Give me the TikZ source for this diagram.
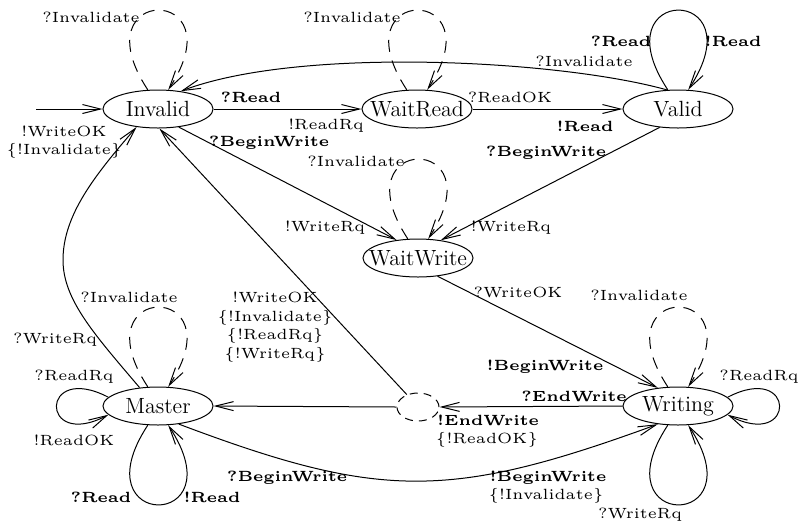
\documentclass[tikz,border=0pt]{standalone}
\usepackage{fontspec}
\newfontfamily\lblfont[Extension=.otf,BoldFont=lmroman5-bold]{lmroman5-regular}
\usetikzlibrary{arrows.meta,shapes.geometric}
\begin{document}
\begin{tikzpicture}[x=0.5pt,y=-0.5pt,line width=0.5pt,
  >={Straight Barb[length=9pt,width=4.5pt]},
  state/.style={ellipse,draw,minimum width=55pt,minimum height=19pt,inner sep=0pt,font=\fontsize{11}{12}\selectfont},
  choice/.style={ellipse,draw,dash pattern=on 4pt off 3pt,minimum width=21pt,minimum height=14pt,inner sep=0pt},
  lbl/.style={inner sep=0pt,font=\lblfont\fontsize{7.4}{9.3}\selectfont,align=center},
  blbl/.style={inner sep=0pt,font=\lblfont\fontsize{7.4}{9.3}\selectfont\bfseries,align=center},
  dsh/.style={dash pattern=on 6pt off 4.5pt}]
\path[use as bounding box] (0,0) rectangle (799,527);

% states
\node[state] (inv) at (158,109) {\makebox[0pt]{Invalid}};
\node[state] (wr)  at (417,109) {\makebox[0pt]{WaitRead}};
\node[state] (val) at (678,109) {\makebox[0pt]{Valid}};
\node[state] (ww)  at (418,258) {\makebox[0pt]{WaitWrite}};
\node[state] (mas) at (158,406) {\makebox[0pt]{Master}};
\node[state] (wri) at (678,406) {\makebox[0pt]{Writing}};
\node[choice] (ch) at (418,407) {};
\coordinate (start) at (36,109);

% straight transitions
\draw[->] (start) -- (inv.west);
\draw[->] (inv.east) -- (wr.west);
\draw[->] (wr.east) -- (val.west);
\draw[->] (inv.-41) -- (ww.140);
\draw[->] (val.225) -- (ww.38);
\draw[->] (ww.-43) -- (wri.138);
\draw[->] (wri.west) -- (ch.east);
\draw[->] (ch.west) -- (mas.east);
\draw[->] (ch.132) -- (inv.-86);

% curved transitions
\draw[->] (val.120) .. controls (560,60) and (300,46) .. (inv.38);
\draw[->] (mas.135) .. controls (95,335) and (63,300) .. (63,260)
                    .. controls (63,215) and (95,175) .. (inv.220);
\draw[->] (mas.-41) .. controls (380,500) and (450,500) .. (wri.222);

% top self loops
\draw[->,dsh] (inv.118) .. controls +(-70,-106) and +(70,-106) .. (inv.62);
\draw[->,dsh] (wr.118) .. controls +(-70,-106) and +(70,-106) .. (wr.62);
\draw[->] (val.118) .. controls +(-70,-106) and +(70,-106) .. (val.62);
\draw[->,dsh] (ww.118) .. controls +(-70,-106) and +(70,-106) .. (ww.62);
\draw[->,dsh] (mas.118) .. controls +(-70,-106) and +(70,-106) .. (mas.62);
\draw[->,dsh] (wri.118) .. controls +(-70,-106) and +(70,-106) .. (wri.62);
% bottom self loops
\draw[->] (mas.-118) .. controls +(-70,106) and +(70,106) .. (mas.-62);
\draw[->] (wri.-118) .. controls +(-70,106) and +(70,106) .. (wri.-62);
% side self loops
\draw[->] (mas.170) .. controls +(-69,-36) and +(-69,36) .. (mas.190);
\draw[->] (wri.10) .. controls +(69,-36) and +(69,36) .. (wri.-10);

% labels
\node[lbl]  (l1)  at (91,17)   {?Invalidate};
\node[lbl]  (l2)  at (352,17)  {?Invalidate};
\node[blbl] (l3)  at (621,41)  {?Read};
\node[blbl] (l4)  at (733,41)  {!Read};
\node[lbl]  (l5)  at (584,61)  {?Invalidate};
\node[blbl] (l6)  at (251,97)  {?Read};
\node[lbl]  (l7)  at (326,126) {!ReadRq};
\node[lbl]  (l8)  at (510,97)  {?ReadOK};
\node[blbl] (l9)  at (585,126) {!Read};
\node[lbl]  (l10) at (64,142)  {!WriteOK\\\{!Invalidate\}};
\node[blbl] (l11) at (269,143) {?BeginWrite};
\node[blbl] (l12) at (546,153) {?BeginWrite};
\node[lbl]  (l13) at (356,161) {?Invalidate};
\node[lbl]  (l14) at (325,228) {!WriteRq};
\node[lbl]  (l15) at (511,228) {!WriteRq};
\node[lbl]  (l16) at (518,292) {?WriteOK};
\node[lbl]  (l17) at (129,297) {?Invalidate};
\node[lbl]  (l18) at (639,295) {?Invalidate};
\node[lbl]  (l19) at (275,327) {!WriteOK\\\{!Invalidate\}\\\{!ReadRq\}\\\{!WriteRq\}};
\node[lbl]  (l20) at (55,340)  {?WriteRq};
\node[blbl] (l21) at (545,367) {!BeginWrite};
\node[lbl]  (l22) at (74,377)  {?ReadRq};
\node[lbl,anchor=east] (l23) at (799,377) {?ReadRq};
\node[blbl] (l24) at (574,396) {?EndWrite};
\node[blbl] (l25) at (488,420) {!EndWrite};
\node[lbl]  (l26) at (487,440) {\{!ReadOK\}};
\node[lbl]  (l27) at (74,440)  {!ReadOK};
\node[blbl] (l28) at (287,478) {?BeginWrite};
\node[blbl] (l29) at (548,478) {!BeginWrite};
\node[lbl]  (l30) at (546,496) {\{!Invalidate\}};
\node[blbl] (l31) at (101,497) {?Read};
\node[blbl] (l32) at (212,497) {!Read};
\node[lbl]  (l33) at (640,515) {?WriteRq};
\end{tikzpicture}
\end{document}
